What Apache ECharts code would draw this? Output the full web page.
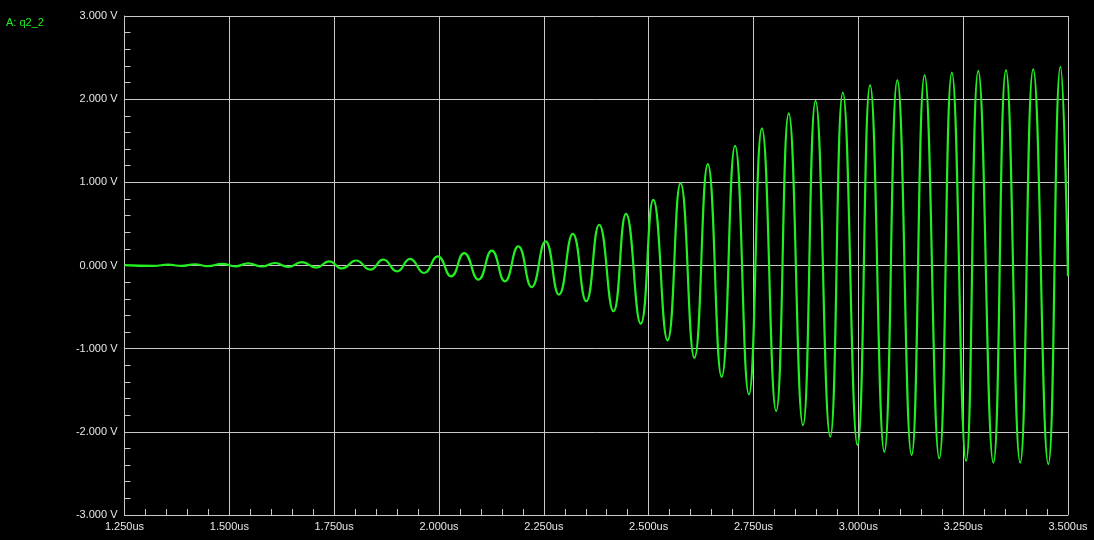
<!DOCTYPE html>
<html>
<head>
<meta charset="utf-8">
<script src="https://cdn.jsdelivr.net/npm/echarts@6/dist/echarts.min.js"></script>
<style>
html,body{margin:0;padding:0;background:#000;}
#chart{width:1094px;height:540px;}
</style>
</head>
<body>
<div id="chart"></div>
<script>
// Trace A: q2_2 — extrema (time in us, voltage in V)
const timesUs = [
  1.250, 1.320, 1.354, 1.385, 1.418, 1.449, 1.483, 1.514, 1.545, 1.578,
  1.609, 1.640, 1.673, 1.707, 1.738, 1.769, 1.802, 1.836, 1.867, 1.900,
  1.931, 1.964, 1.997, 2.029, 2.060, 2.094, 2.126, 2.157, 2.189, 2.221,
  2.254, 2.286, 2.319, 2.351, 2.382, 2.416, 2.446, 2.481, 2.511, 2.545,
  2.576, 2.609, 2.641, 2.674, 2.706, 2.739, 2.770, 2.804, 2.834, 2.868,
  2.898, 2.933, 2.963, 2.998, 3.028, 3.062, 3.093, 3.127, 3.158, 3.193,
  3.223, 3.257, 3.286, 3.322, 3.352, 3.386, 3.417, 3.453, 3.482, 3.500
];
const voltsV = [
  0.005, -0.005, 0.010, -0.005, 0.015, -0.008, 0.020, -0.010, 0.025, -0.012,
  0.030, -0.018, 0.040, -0.025, 0.050, -0.035, 0.060, -0.050, 0.070, -0.070,
  0.080, -0.090, 0.110, -0.130, 0.150, -0.170, 0.180, -0.190, 0.230, -0.260,
  0.290, -0.350, 0.380, -0.430, 0.490, -0.550, 0.620, -0.700, 0.790, -0.900,
  0.990, -1.110, 1.220, -1.340, 1.440, -1.550, 1.650, -1.750, 1.830, -1.920,
  1.980, -2.060, 2.080, -2.160, 2.170, -2.240, 2.230, -2.280, 2.290, -2.320,
  2.320, -2.350, 2.340, -2.370, 2.350, -2.370, 2.360, -2.390, 2.390, -0.130
];
const traceName = 'A: q2_2';
const xTicks = { min: 1.25, max: 3.5, interval: 0.25 };
const yTicks = { min: -3, max: 3, interval: 1 };

const green = '#22ee22';
const gridCol = '#c8c8c8';
const textCol = '#e6e6e6';

const chart = echarts.init(document.getElementById('chart'), null, {renderer: 'canvas'});
chart.setOption({
  backgroundColor: '#000',
  animation: false,
  title: {
    text: traceName, left: 1, top: 12,
    textStyle: {color: green, fontSize: 11, fontWeight: 'normal', fontFamily: 'Liberation Sans, Arial, sans-serif'}
  },
  grid: {left: 124.5, right: 26, top: 16, bottom: 25, containLabel: false},
  xAxis: {
    type: 'value', min: xTicks.min, max: xTicks.max, interval: xTicks.interval,
    axisLine: {show: true, onZero: false, lineStyle: {color: gridCol, width: 1}},
    axisTick: {show: true, inside: true, length: 6, lineStyle: {color: gridCol}},
    minorTick: {show: true, splitNumber: 5, length: 6, lineStyle: {color: gridCol, width: 1}},
    splitLine: {show: true, lineStyle: {color: gridCol, width: 1}},
    axisLabel: {
      color: textCol, fontSize: 11, margin: 6, fontFamily: 'Liberation Sans, Arial, sans-serif',
      showMinLabel: true, showMaxLabel: true,
      formatter: v => v.toFixed(3) + 'us'
    }
  },
  yAxis: {
    type: 'value', min: yTicks.min, max: yTicks.max, interval: yTicks.interval,
    axisLine: {show: true, onZero: false, lineStyle: {color: gridCol, width: 1}},
    axisTick: {show: true, inside: true, length: 6, lineStyle: {color: gridCol}},
    minorTick: {show: true, splitNumber: 5, length: 6, lineStyle: {color: gridCol, width: 1}},
    splitLine: {show: true, lineStyle: {color: gridCol, width: 1}},
    axisLabel: {
      color: textCol, fontSize: 11, margin: 7, fontFamily: 'Liberation Sans, Arial, sans-serif',
      formatter: v => v.toFixed(3) + ' V'
    }
  },
  series: [{
    name: traceName,
    type: 'line',
    data: timesUs.map((t, i) => [t, voltsV[i]]),
    showSymbol: false,
    smooth: 0.5,
    lineStyle: {color: green, width: 2.2},
    clip: true
  }]
});
</script>
</body>
</html>
